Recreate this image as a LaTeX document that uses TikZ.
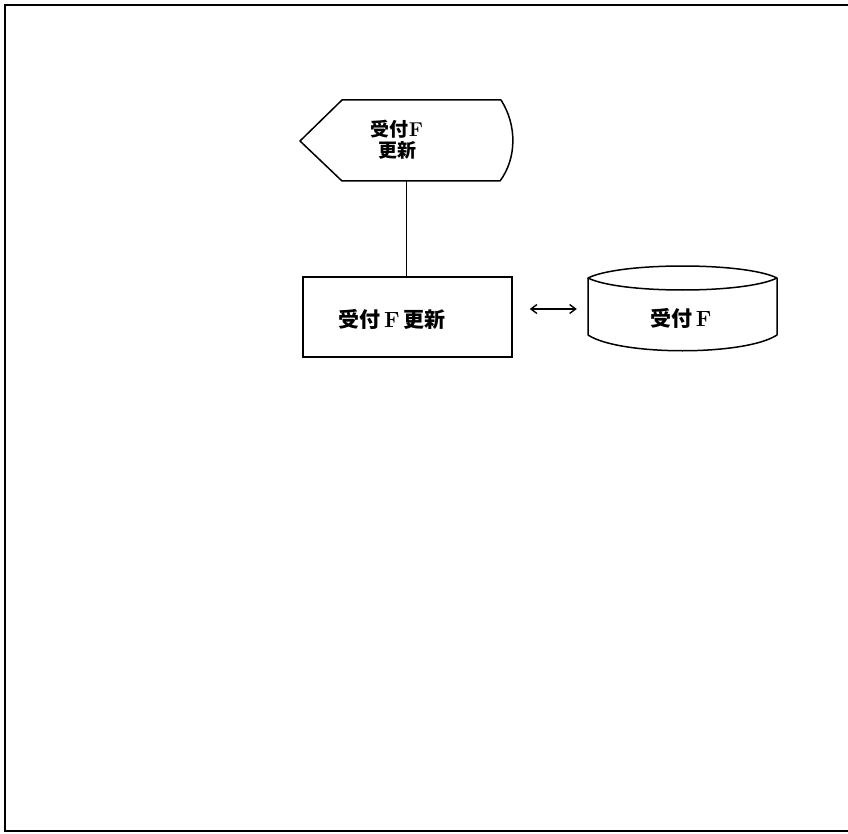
\documentclass[tikz,border=0pt]{standalone}
\usepackage{fontspec}
\newfontfamily\cjk{Noto Sans CJK JP}
\usetikzlibrary{arrows.meta}
\tikzset{
  lbl/.style={font=\cjk\bfseries\fontsize{21}{23}\selectfont, inner sep=0pt},
  shapeline/.style={draw=black, line width=1.5pt, line join=round},
  conn/.style={draw=black, line width=1.5pt},
}
\newcommand{\serF}{{\rmfamily\bfseries\fontsize{22}{23}\selectfont F}}
\begin{document}
\begin{tikzpicture}[x=1pt,y=-1pt]
\useasboundingbox (0,0) rectangle (848,834);
\fill[white] (0,0) rectangle (848,834);
% frame
\draw[line width=1.8pt] (848,5) -- (5,5) -- (5,831) -- (848,831);
% display shape
\node[lbl, align=center, font=\cjk\bfseries\fontsize{19}{21}\selectfont] (disp) at (397,140) {受付{\rmfamily\bfseries\fontsize{20}{21}\selectfont F}\\更新};
\draw[shapeline] (342,100) -- (501,100) .. controls (517,125) and (517,158) .. (500,181) -- (342,181) -- (300,141) -- cycle;
% process box
\node[draw, line width=1.5pt, minimum width=209pt, minimum height=80pt, inner sep=0pt] (proc) at (407.5,317) {};
\node[lbl] (proctext) at (392,319) {受付\,\serF\,更新};
% connector display -> process
\coordinate (dispb) at (406.5,181);
\draw[conn] (dispb) -- (dispb |- proc.north);
% database cylinder
\node[lbl, minimum width=189pt] (db) at (681,318) {受付\,\serF};
\draw[shapeline] (588,278) .. controls (620,262) and (745,262) .. (777,278)
  .. controls (745,294) and (620,294) .. (588,278) -- cycle;
\draw[shapeline] (588,278) -- (588,335) .. controls (620,356) and (745,356) .. (777,335) -- (777,278);
% double arrow
\draw[conn, line width=1.4pt, {Straight Barb[length=6pt,width=9pt]}-{Straight Barb[length=6pt,width=9pt]}]
  ([xshift=17pt,yshift=8pt]proc.east) -- ([xshift=-9.5pt,yshift=9pt]db.west);
\end{tikzpicture}
\end{document}
